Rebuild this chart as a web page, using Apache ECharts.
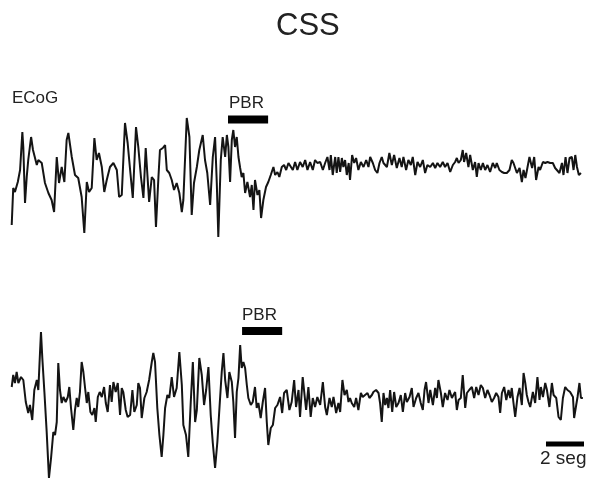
<!DOCTYPE html>
<html>
<head>
<meta charset="utf-8">
<script src="https://cdn.jsdelivr.net/npm/echarts@6/dist/echarts.min.js"></script>
<style>html,body{margin:0;padding:0;background:#fff;}#c{width:591px;height:485px;}</style>
</head>
<body>
<div id="c"></div>
<script>
// Time (s) and amplitude (a.u.) of trace 1 (upper ECoG)
var topTime = [0.09,0.17,0.26,0.41,0.53,0.65,0.70,0.79,0.88,0.96,1.11,1.21,1.41,1.49,1.67,1.84,2.02,2.19,2.32,2.46,2.58,2.72,2.86,2.98,3.07,3.25,3.42,3.59,3.77,3.91,4.04,4.16,4.30,4.44,4.56,4.68,4.83,4.96,5.09,5.26,5.44,5.62,5.74,5.88,6.05,6.19,6.32,6.46,6.63,6.75,6.89,7.02,7.14,7.32,7.46,7.58,7.68,7.81,7.89,8.04,8.16,8.25,8.38,8.51,8.63,8.77,8.91,9.04,9.12,9.30,9.44,9.56,9.68,9.83,9.96,10.14,10.26,10.38,10.53,10.67,10.79,10.88,10.96,11.09,11.19,11.32,11.41,11.49,11.58,11.67,11.75,11.84,11.93,12.02,12.11,12.19,12.28,12.37,12.49,12.63,12.72,12.81,12.89,13.02,13.12,13.21,13.33,13.47,13.59,13.72,13.86,13.95,14.07,14.17,14.30,14.42,14.53,14.65,14.74,14.88,15.00,15.12,15.26,15.40,15.53,15.65,15.79,15.93,16.05,16.17,16.32,16.46,16.58,16.70,16.81,16.88,16.98,17.11,17.19,17.28,17.37,17.46,17.54,17.63,17.72,17.82,17.89,18.00,18.11,18.21,18.33,18.46,18.60,18.74,18.86,18.95,19.09,19.21,19.33,19.44,19.56,19.65,19.83,19.96,20.09,20.21,20.35,20.49,20.61,20.70,20.84,20.96,21.09,21.19,21.32,21.44,21.58,21.72,21.84,21.96,22.11,22.25,22.37,22.49,22.63,22.77,22.89,23.02,23.16,23.30,23.42,23.51,23.60,23.72,23.82,23.89,24.00,24.12,24.21,24.35,24.47,24.56,24.65,24.77,24.88,25.00,25.12,25.26,25.40,25.53,25.61,25.75,25.88,26.00,26.14,26.28,26.40,26.49,26.58,26.67,26.81,26.93,27.02,27.12,27.23,27.33,27.40,27.47,27.58,27.68,27.81,27.89,28.04,28.16,28.28,28.42,28.56,28.68,28.77,28.91,29.04,29.12,29.23,29.33,29.44,29.56,29.65,29.74,29.83,29.93,30.04];
var topAmp = [-50,-13,-17,-7,5,43,28,-28,-2,15,38,25,10,15,12,-8,-18,-25,-37,18,-8,8,-7,35,42,18,0,-3,-22,-58,-7,-17,-13,37,15,22,8,-17,-5,8,12,5,-22,-20,52,32,5,-23,48,28,-2,-23,27,-27,-2,-5,-52,-2,25,27,30,5,2,-5,-15,-8,-18,-37,-25,57,38,-40,-8,8,25,40,15,2,-30,18,38,-8,-62,15,38,18,40,28,-7,35,45,28,38,18,7,-2,2,-18,-7,-22,-10,-35,-5,-20,-15,-43,-25,-12,-7,0,8,0,3,-2,8,10,5,12,12,5,13,5,13,8,15,5,13,5,15,12,13,5,12,18,5,20,0,18,2,18,3,17,8,15,0,12,-5,20,12,17,5,13,8,15,8,18,12,5,2,12,18,12,8,22,10,20,7,17,8,18,5,15,10,18,0,13,8,15,2,10,8,12,7,12,8,13,8,12,3,10,13,17,12,15,25,13,22,8,20,5,13,-2,12,5,12,5,10,3,12,7,12,5,3,2,2,5,15,12,7,2,7,-7,5,-3,8,18,20,7,18,-5,8,5,13,12,13,12,12,7,8,2,12,0,18,2,17,18,5,20,8,0,2];

// Time (s) and amplitude (a.u.) of trace 2 (lower ECoG)
var botTime = [0.09,0.17,0.26,0.35,0.44,0.58,0.70,0.83,0.96,1.05,1.17,1.28,1.41,1.49,1.58,1.63,1.70,1.81,1.93,2.05,2.16,2.28,2.37,2.46,2.54,2.63,2.72,2.81,2.93,3.04,3.12,3.21,3.33,3.42,3.51,3.59,3.68,3.77,3.86,3.95,4.04,4.12,4.23,4.33,4.44,4.51,4.62,4.72,4.83,4.95,5.04,5.14,5.26,5.35,5.44,5.56,5.67,5.79,5.88,5.96,6.09,6.19,6.32,6.44,6.54,6.67,6.75,6.84,6.93,7.07,7.19,7.32,7.46,7.54,7.63,7.75,7.86,7.98,8.07,8.16,8.28,8.38,8.51,8.63,8.77,8.91,9.04,9.12,9.26,9.38,9.51,9.62,9.74,9.83,9.96,10.09,10.21,10.32,10.44,10.56,10.67,10.79,10.91,11.02,11.14,11.23,11.32,11.44,11.54,11.67,11.75,11.84,11.93,12.02,12.11,12.19,12.28,12.37,12.46,12.54,12.67,12.77,12.89,12.98,13.07,13.19,13.30,13.42,13.51,13.59,13.72,13.83,13.95,14.07,14.21,14.32,14.42,14.56,14.70,14.82,14.95,15.05,15.18,15.26,15.40,15.47,15.58,15.70,15.82,15.93,16.05,16.17,16.32,16.46,16.58,16.67,16.81,16.93,17.02,17.16,17.28,17.37,17.49,17.60,17.72,17.81,17.89,17.98,18.11,18.21,18.33,18.46,18.56,18.68,18.81,18.91,19.04,19.12,19.26,19.39,19.47,19.56,19.65,19.74,19.83,19.91,20.00,20.11,20.21,20.32,20.44,20.56,20.67,20.79,20.88,21.02,21.14,21.23,21.37,21.49,21.61,21.72,21.81,21.89,22.02,22.11,22.25,22.37,22.46,22.54,22.67,22.77,22.89,23.02,23.12,23.25,23.33,23.42,23.51,23.60,23.72,23.82,23.95,24.04,24.16,24.30,24.42,24.53,24.65,24.77,24.88,25.00,25.12,25.23,25.35,25.47,25.58,25.70,25.79,25.88,26.00,26.11,26.23,26.32,26.40,26.49,26.58,26.70,26.81,26.93,27.02,27.11,27.19,27.28,27.37,27.51,27.63,27.75,27.86,27.93,28.04,28.16,28.25,28.38,28.51,28.60,28.74,28.86,28.98,29.09,29.21,29.33,29.47,29.62,29.68,29.79,29.86,29.96,30.04,30.14];
var botAmp = [13,25,17,28,17,23,20,-2,-13,-5,-20,10,20,10,48,68,42,8,-32,-78,-58,-32,-35,-22,37,10,-3,3,-2,3,13,-8,-30,-10,2,-7,8,38,28,12,-3,8,-12,-15,-8,-22,3,8,3,13,-3,-12,15,-2,18,8,17,-15,12,8,-10,-17,-15,10,-12,-5,17,12,-18,2,8,20,38,47,38,-8,-35,-57,-35,-8,5,2,23,3,12,48,15,-25,-35,-57,-2,38,-22,-10,42,25,-5,10,33,-15,-43,-68,-42,-8,28,47,20,2,28,18,-2,-38,8,22,55,32,38,32,15,2,-5,-2,13,-8,-3,-18,-2,12,-22,-45,-28,-25,-8,-5,3,-13,7,10,-10,-2,20,-7,10,-17,23,10,-10,13,-17,2,-7,3,-5,18,-7,-15,2,-7,3,-13,-3,-12,20,5,10,-2,2,-3,-7,2,-10,7,3,5,7,2,5,8,10,7,-3,-22,7,-5,2,-8,10,-12,8,-7,-3,5,-12,7,-2,3,12,-7,2,7,-3,-10,10,18,-3,10,-5,12,2,20,7,-7,7,0,10,2,5,8,-10,0,2,25,-8,7,10,13,2,13,5,15,12,2,10,5,-2,2,7,3,-13,7,13,0,10,2,12,-3,-17,3,12,-5,27,17,5,-2,-7,8,-3,23,0,13,3,17,10,-7,17,5,2,-17,-20,2,13,10,8,3,-18,-5,3,17,2,2];

// Stimulus (PBR) intervals in s, and time-scale bar length
var pbrTop = [11.47, 13.58];
var pbrBot = [12.21, 14.32];
var scaleBar = [28.2, 30.2];
var labels = { title: 'CSS', trace: 'ECoG', stim: 'PBR', scale: '2 seg' };

var chart = echarts.init(document.getElementById('c'), null, { renderer: 'canvas' });
var ink = '#141414';
var fam = '"Liberation Sans", Arial, sans-serif';
var xAxisCommon = { type: 'value', min: 0, max: 30.2, show: false };
function pairs(t, v) { return t.map(function (x, i) { return [x, v[i]]; }); }
function bar(range, level) { return [[range[0], level], [range[1], level]]; }

chart.setOption({
  animation: false,
  backgroundColor: '#fff',
  grid: [
    { left: 10, width: 574, top: 110, height: 130 },
    { left: 10, width: 574, top: 320, height: 160 }
  ],
  xAxis: [
    Object.assign({ gridIndex: 0 }, xAxisCommon),
    Object.assign({ gridIndex: 1 }, xAxisCommon)
  ],
  yAxis: [
    { gridIndex: 0, type: 'value', min: -65, max: 65, show: false },
    { gridIndex: 1, type: 'value', min: -80, max: 80, show: false }
  ],
  graphic: [
    { type: 'text', left: 276, top: 11, style: { text: labels.title, font: '31px ' + fam, fill: '#222' } },
    { type: 'text', left: 12, top: 90, style: { text: labels.trace, font: '17px ' + fam, fill: '#222' } },
    { type: 'text', left: 229, top: 95, style: { text: labels.stim, font: '17px ' + fam, fill: '#222' } },
    { type: 'text', left: 242, top: 307, style: { text: labels.stim, font: '17px ' + fam, fill: '#222' } },
    { type: 'text', left: 540, top: 449, style: { text: labels.scale, font: '19px ' + fam, fill: '#222' } }
  ],
  series: [
    { type: 'line', xAxisIndex: 0, yAxisIndex: 0, data: pairs(topTime, topAmp), showSymbol: false, lineStyle: { color: ink, width: 2 }, silent: true },
    { type: 'line', xAxisIndex: 1, yAxisIndex: 1, data: pairs(botTime, botAmp), showSymbol: false, lineStyle: { color: ink, width: 2 }, silent: true },
    { type: 'line', xAxisIndex: 0, yAxisIndex: 0, data: bar(pbrTop, 55.5), showSymbol: false, lineStyle: { color: '#000', width: 8, cap: 'butt' }, silent: true },
    { type: 'line', xAxisIndex: 1, yAxisIndex: 1, data: bar(pbrBot, 69), showSymbol: false, lineStyle: { color: '#000', width: 8, cap: 'butt' }, silent: true },
    { type: 'line', xAxisIndex: 1, yAxisIndex: 1, data: bar(scaleBar, -44), showSymbol: false, lineStyle: { color: '#000', width: 5, cap: 'butt' }, silent: true }
  ]
});
</script>
</body>
</html>
